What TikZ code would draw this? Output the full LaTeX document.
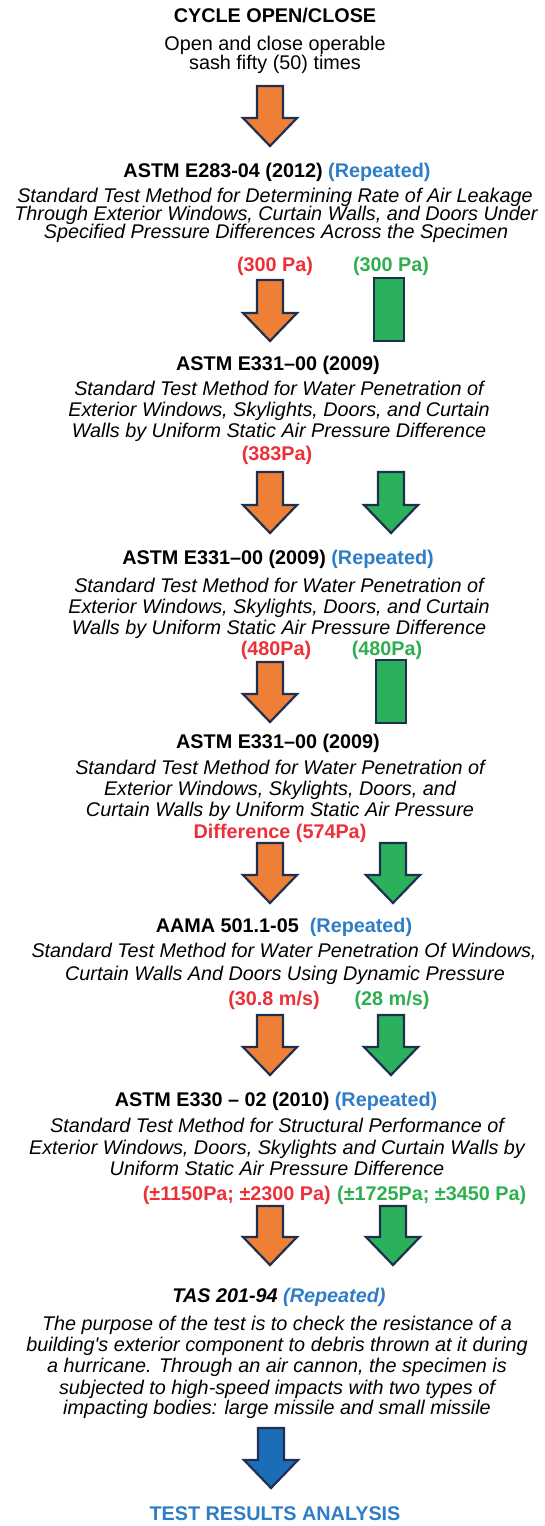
\documentclass[tikz,border=0pt]{standalone}
\usepackage{fontspec}
\setmainfont{Liberation Sans}[Ligatures=TeXOff]
\definecolor{navy}{HTML}{1F2F50}
\definecolor{orangefill}{HTML}{EE7F36}
\definecolor{greenfill}{HTML}{2BB05B}
\definecolor{bluefill}{HTML}{1C6DB8}
\definecolor{redtxt}{HTML}{EC3038}
\definecolor{greentxt}{HTML}{2EAF4F}
\definecolor{reptxt}{HTML}{2E7DC6}
\newcommand\fs{\fontsize{19.8}{20}\selectfont}
\newcommand\rep[1]{\textcolor{reptxt}{#1}}
% block arrow: x centre, top, tip, fill colour
\newcommand\barrow[4]{%
  \draw[arrowline, fill=#4] (#1-13,#2) -- (#1+13,#2) -- (#1+13,#3-28) -- (#1+27,#3-28)
    -- (#1,#3) -- (#1-27,#3-28) -- (#1-13,#3-28) -- cycle;}
\newcommand\gbar[3]{%
  \draw[barline] (#1-15,#2) rectangle (#1+15,#3);}
\begin{document}
\begin{tikzpicture}[x=1pt,y=-1pt,
  txt/.style={anchor=base, inner sep=0pt, font=\fs},
  hd/.style={txt, font=\fs\bfseries},
  itl/.style={txt, font=\fs\itshape},
  redl/.style={hd, text=redtxt},
  greenl/.style={hd, text=greentxt},
  arrowline/.style={draw=navy, line width=2.2pt, line join=miter},
  barline/.style={draw=navy, line width=2.8pt, fill=greenfill},
]
\useasboundingbox (0,0) rectangle (545,1526);

% cycle
\node[hd]  (c1) at (275,22) {CYCLE OPEN/CLOSE};
\node[txt] (c2) at (275,50) {Open and close operable};
\node[txt] (c3) at (275,69) {sash fifty (50) times};
\barrow{270}{86}{146}{orangefill}

% E283
\node[hd]  (a1) at (277,177) {ASTM E283-04 (2012) \rep{(Repeated)}};
\node[itl] (a2) at (275,202) {Standard Test Method for Determining Rate of Air Leakage};
\node[itl] (a3) at (276,220) {Through Exterior Windows, Curtain Walls, and Doors Under};
\node[itl] (a4) at (276,238) {Specified Pressure Differences Across the Specimen};
\node[redl]   (a5) at (275,271) {(300 Pa)};
\node[greenl] (a6) at (391,271) {(300 Pa)};
\barrow{270}{280}{341}{orangefill}
\gbar{389}{278}{341}

% E331 (1)
\node[hd]  (b1) at (278,370) {ASTM E331–00 (2009)};
\node[itl] (b2) at (279,395) {Standard Test Method for Water Penetration of};
\node[itl] (b3) at (279,416) {Exterior Windows, Skylights, Doors, and Curtain};
\node[itl] (b4) at (279,437) {Walls by Uniform Static Air Pressure Difference};
\node[redl] (b5) at (277,460) {(383Pa)};
\barrow{270}{472}{533}{orangefill}
\barrow{391}{472}{533}{greenfill}

% E331 (2)
\node[hd]  (d1) at (278,564) {ASTM E331–00 (2009) \rep{(Repeated)}};
\node[itl] (d2) at (279,592) {Standard Test Method for Water Penetration of};
\node[itl] (d3) at (279,613) {Exterior Windows, Skylights, Doors, and Curtain};
\node[itl] (d4) at (279,634) {Walls by Uniform Static Air Pressure Difference};
\node[redl]   (d5) at (276,655) {(480Pa)};
\node[greenl] (d6) at (387,655) {(480Pa)};
\barrow{270}{662}{722}{orangefill}
\gbar{391}{660}{723}

% E331 (3)
\node[hd]  (e1) at (278,748) {ASTM E331–00 (2009)};
\node[itl] (e2) at (280,774) {Standard Test Method for Water Penetration of};
\node[itl] (e3) at (280,795) {Exterior Windows, Skylights, Doors, and};
\node[itl] (e4) at (280,816) {Curtain Walls by Uniform Static Air Pressure};
\node[redl] (e5) at (280,838) {Difference (574Pa)};
\barrow{270}{843}{903}{orangefill}
\barrow{393}{843}{903}{greenfill}

% AAMA
\node[hd]  (f1) at (284,932) {AAMA 501.1-05\ \ \rep{(Repeated)}};
\node[itl] (f2) at (284,957) {Standard Test Method for Water Penetration Of Windows,};
\node[itl] (f3) at (285,980) {Curtain Walls And Doors Using Dynamic Pressure};
\node[redl]   (f4) at (274,1005) {(30.8 m/s)};
\node[greenl] (f5) at (392,1005) {(28 m/s)};
\barrow{270}{1015}{1075}{orangefill}
\barrow{391}{1015}{1075}{greenfill}

% E330
\node[hd]  (g1) at (276,1106) {ASTM E330 – 02 (2010) \rep{(Repeated)}};
\node[itl] (g2) at (277,1132) {Standard Test Method for Structural Performance of};
\node[itl] (g3) at (277,1154) {Exterior Windows, Doors, Skylights and Curtain Walls by};
\node[itl] (g4) at (277,1175) {Uniform Static Air Pressure Difference};
\node[redl,anchor=base east]   (g5) at (331,1200) {(±1150Pa; ±2300 Pa)};
\node[greenl,anchor=base west] (g6) at (337,1200) {(±1725Pa; ±3450 Pa)};
\barrow{270}{1206}{1265}{orangefill}
\barrow{393}{1206}{1265}{greenfill}

% TAS
\node[hd, font=\fs\bfseries\itshape] (h1) at (279,1302) {TAS 201-94 \rep{(Repeated)}};
\node[itl] (h2) at (277,1330) {The purpose of the test is to check the resistance of a};
\node[itl] (h3) at (277,1351) {building's exterior component to debris thrown at it during};
\node[itl] (h4) at (277,1372) {a hurricane. Through an air cannon, the specimen is};
\node[itl] (h5) at (277,1394) {subjected to high-speed impacts with two types of};
\node[itl] (h6) at (277,1414) {impacting bodies: large missile and small missile};
\barrow{271}{1428}{1488}{bluefill}

\node[hd, text=reptxt] (t1) at (275,1520) {TEST RESULTS ANALYSIS};
\end{tikzpicture}
\end{document}
